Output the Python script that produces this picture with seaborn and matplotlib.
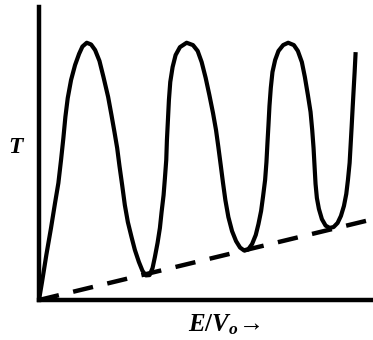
import numpy as np
import pandas as pd
import matplotlib
matplotlib.use("Agg")
import matplotlib.pyplot as plt
import seaborn as sns

# transmission curve T vs E/V0 (arbitrary units)
energy = [0.00, 0.09, 0.22, 0.36, 0.48, 0.58, 0.66, 0.73, 0.79, 0.86,
          0.96, 1.08, 1.20, 1.30, 1.43,
          1.56, 1.68, 1.81, 1.93, 2.07, 2.17, 2.26, 2.34, 2.41, 2.49,
          2.57, 2.66, 2.77, 2.87, 2.99, 3.10, 3.20, 3.31, 3.40, 3.47,
          3.55, 3.62, 3.67, 3.73, 3.77, 3.81, 3.83, 3.86, 3.89, 3.93,
          4.00, 4.09, 4.22, 4.42,
          4.61, 4.75, 4.87, 4.99, 5.10, 5.21, 5.30, 5.37, 5.44, 5.51,
          5.58, 5.67, 5.78, 5.90, 6.02, 6.14, 6.26, 6.38, 6.49,
          6.57, 6.65, 6.71, 6.77, 6.81, 6.84, 6.87, 6.90, 6.94, 6.99,
          7.07, 7.17, 7.31, 7.46,
          7.63, 7.75, 7.87, 7.96, 8.05, 8.13, 8.18, 8.22, 8.25, 8.28,
          8.32, 8.38, 8.47, 8.58, 8.70, 8.82, 8.94, 9.04, 9.13, 9.20,
          9.25, 9.30, 9.33, 9.36, 9.39, 9.42, 9.45, 9.48]
trans = [0.000, 0.061, 0.154, 0.246, 0.331, 0.399, 0.478, 0.553, 0.625, 0.689,
         0.751, 0.802, 0.840, 0.865, 0.878,
         0.872, 0.853, 0.816, 0.761, 0.693, 0.631, 0.573, 0.519, 0.457, 0.392,
         0.324, 0.266, 0.215, 0.171, 0.130, 0.099, 0.084, 0.085, 0.109, 0.147,
         0.195, 0.246, 0.300, 0.358, 0.416, 0.478, 0.546, 0.614, 0.683, 0.744,
         0.795, 0.836, 0.863, 0.878,
         0.870, 0.850, 0.812, 0.758, 0.700, 0.638, 0.580, 0.522, 0.461, 0.399,
         0.341, 0.283, 0.235, 0.201, 0.179, 0.169, 0.172, 0.191, 0.222,
         0.259, 0.304, 0.355, 0.410, 0.471, 0.536, 0.597, 0.662, 0.724, 0.778,
         0.819, 0.850, 0.870, 0.878,
         0.870, 0.850, 0.812, 0.761, 0.700, 0.642, 0.580, 0.519, 0.457, 0.396,
         0.348, 0.311, 0.276, 0.254, 0.246, 0.249, 0.263, 0.287, 0.321, 0.362,
         0.410, 0.468, 0.529, 0.590, 0.655, 0.717, 0.778, 0.846]

# lower envelope (dashed)
env_energy = [0.0, 9.79]
env_trans = [0.0, 0.27]

curve = pd.DataFrame({"E": energy, "T": trans})
envelope = pd.DataFrame({"E": env_energy, "T": env_trans})

sns.set_style("white")
plt.rcParams["mathtext.fontset"] = "custom"
plt.rcParams["mathtext.it"] = "Liberation Serif:italic:bold"
plt.rcParams["mathtext.rm"] = "Liberation Serif:bold"
plt.rcParams["mathtext.bf"] = "Liberation Serif:bold"

fig = plt.figure(figsize=(3.73, 3.40), dpi=100)
ax = fig.add_axes([39 / 373, 40 / 340, 1 - 39 / 373, 293 / 340])

sns.lineplot(data=curve, x="E", y="T", sort=False, color="black",
             linewidth=3.0, ax=ax, solid_joinstyle="round",
             solid_capstyle="butt")
sns.lineplot(data=envelope, x="E", y="T", color="black", linewidth=3.2,
             ax=ax, dashes=False)
ax.lines[-1].set_dashes([4.6, 3.3])
ax.lines[-1].set_dash_capstyle("butt")

ax.set_xlim(0, 10)
ax.set_ylim(0, 1)
ax.set_xticks([])
ax.set_yticks([])
ax.set_xlabel("")
ax.set_ylabel("")
for side in ["top", "right"]:
    ax.spines[side].set_visible(False)
for side in ["left", "bottom"]:
    ax.spines[side].set_color("black")
    ax.spines[side].set_linewidth(3.2)
    ax.spines[side].set_capstyle("projecting")

fig.text(17 / 373, 1 - 146 / 340, r"$T$", fontsize=17, color="black",
         ha="center", va="center")
fig.text(224 / 373, 1 - 325 / 340, r"$E/V_o\!\rightarrow$", fontsize=18,
         color="black", ha="center", va="center")

fig.savefig("out.png", dpi=100)
